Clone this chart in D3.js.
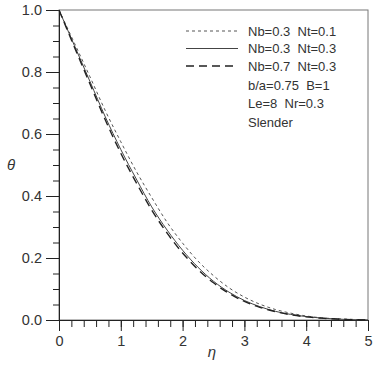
<!DOCTYPE html>
<html>
<head>
<meta charset="utf-8">
<style>
  body { margin: 0; background: #fff; }
  text { font-family: "Liberation Sans", Arial, sans-serif; fill: #333; }
</style>
</head>
<body>
<div id="chart"></div>
<script src="https://d3js.org/d3.v7.min.js"></script>
<script>
// eta grid and the three temperature profiles
var eta = [0, 0.25, 0.5, 0.75, 1.0, 1.25, 1.5, 1.75, 2.0, 2.25, 2.5, 2.75, 3.0, 3.25, 3.5, 3.75, 4.0, 4.25, 4.5, 4.75, 5.0];
var thetaNt01 = [1.0, 0.893, 0.785, 0.675, 0.575, 0.48, 0.395, 0.315, 0.248, 0.19, 0.143, 0.104, 0.074, 0.051, 0.034, 0.022, 0.013, 0.007, 0.004, 0.002, 0.0];
var thetaNt03 = [1.0, 0.885, 0.77, 0.655, 0.55, 0.455, 0.365, 0.29, 0.225, 0.17, 0.125, 0.09, 0.063, 0.043, 0.028, 0.018, 0.011, 0.006, 0.003, 0.001, 0.0];
var thetaNb07 = [1.0, 0.88, 0.762, 0.645, 0.538, 0.443, 0.355, 0.28, 0.216, 0.163, 0.12, 0.086, 0.06, 0.041, 0.027, 0.017, 0.01, 0.006, 0.003, 0.001, 0.0];

var seriesNames = ["Nb=0.3  Nt=0.1", "Nb=0.3  Nt=0.3", "Nb=0.7  Nt=0.3"];
var noteLines = ["b/a=0.75  B=1", "Le=8  Nr=0.3", "Slender"];
var xTicks = [0, 1, 2, 3, 4, 5];
var yTicks = [0.0, 0.2, 0.4, 0.6, 0.8, 1.0];

var width = 376, height = 368;
var margin = {top: 10, right: 8, bottom: 48, left: 59};

var svg = d3.select("#chart").append("svg")
    .attr("width", width)
    .attr("height", height);

var x = d3.scaleLinear().domain([0, 5]).range([margin.left, width - margin.right]);
var y = d3.scaleLinear().domain([0, 1]).range([height - margin.bottom, margin.top]);

// frame
svg.append("rect")
    .attr("x", x(0)).attr("y", y(1))
    .attr("width", x(5) - x(0)).attr("height", y(0) - y(1))
    .attr("fill", "none").attr("stroke", "#777").attr("stroke-width", 1);

// x axis: majors every 1, minors every 0.2
var xMinor = d3.range(0, 5.001, 0.2);
svg.append("g")
    .attr("transform", "translate(0," + y(0) + ")")
    .call(d3.axisBottom(x).tickValues(xMinor).tickSize(7).tickFormat(""))
    .call(g => g.select(".domain").remove())
    .selectAll("line").attr("stroke", "#222");
var xa = svg.append("g")
    .attr("transform", "translate(0," + y(0) + ")")
    .call(d3.axisBottom(x).tickValues(xTicks).tickSize(11).tickPadding(5).tickFormat(d3.format("d")));
xa.select(".domain").attr("stroke", "#222");
xa.selectAll("line").attr("stroke", "#222");
xa.selectAll("text").attr("font-size", 14.5).attr("fill", "#333")
    .style("font-family", "Liberation Sans, Arial, sans-serif");

// y axis: majors every 0.2, minors every 0.05
var yMinor = d3.range(0, 1.001, 0.05);
svg.append("g")
    .attr("transform", "translate(" + x(0) + ",0)")
    .call(d3.axisLeft(y).tickValues(yMinor).tickSize(6).tickFormat(""))
    .call(g => g.select(".domain").remove())
    .selectAll("line").attr("stroke", "#222");
var ya = svg.append("g")
    .attr("transform", "translate(" + x(0) + ",0)")
    .call(d3.axisLeft(y).tickValues(yTicks).tickSize(13).tickPadding(4).tickFormat(d3.format(".1f")));
ya.select(".domain").attr("stroke", "#222");
ya.selectAll("line").attr("stroke", "#222");
ya.selectAll("text").attr("font-size", 14.5).attr("fill", "#333")
    .style("font-family", "Liberation Sans, Arial, sans-serif");

// axis titles
svg.append("text")
    .attr("x", 11).attr("y", y(0.5) + 5)
    .attr("text-anchor", "middle")
    .attr("font-size", 15).attr("font-style", "italic")
    .text("\u03b8");
svg.append("text")
    .attr("x", 212).attr("y", 357)
    .attr("text-anchor", "middle")
    .attr("font-size", 15).attr("font-style", "italic")
    .text("\u03b7");

// curves
var styles = [
  {data: thetaNt01, dash: "3,3", width: 1, color: "#555"},
  {data: thetaNt03, dash: null, width: 1, color: "#444"},
  {data: thetaNb07, dash: "8,5", width: 1.4, color: "#222"}
];
var line = d3.line()
    .x(function(d) { return x(d[0]); })
    .y(function(d) { return y(d[1]); })
    .curve(d3.curveMonotoneX);

styles.forEach(function(s) {
  svg.append("path")
      .datum(eta.map(function(e, i) { return [e, s.data[i]]; }))
      .attr("d", line)
      .attr("fill", "none")
      .attr("stroke", s.color)
      .attr("stroke-width", s.width)
      .attr("stroke-dasharray", s.dash);
});

// legend
var legY0 = 31, legStep = 17.5;
styles.forEach(function(s, i) {
  var ly = legY0 + i * legStep;
  svg.append("line")
      .attr("x1", 186).attr("x2", 238)
      .attr("y1", ly).attr("y2", ly)
      .attr("stroke", s.color)
      .attr("stroke-width", s.width)
      .attr("stroke-dasharray", s.dash);
  svg.append("text")
      .attr("x", 248).attr("y", ly + 4.5)
      .attr("font-size", 13)
      .style("white-space", "pre")
      .text(seriesNames[i]);
});
noteLines.forEach(function(t, i) {
  svg.append("text")
      .attr("x", 248).attr("y", legY0 + (i + 3) * 18.2 + 4.5)
      .attr("font-size", 13)
      .style("white-space", "pre")
      .text(t);
});
</script>
</body>
</html>
